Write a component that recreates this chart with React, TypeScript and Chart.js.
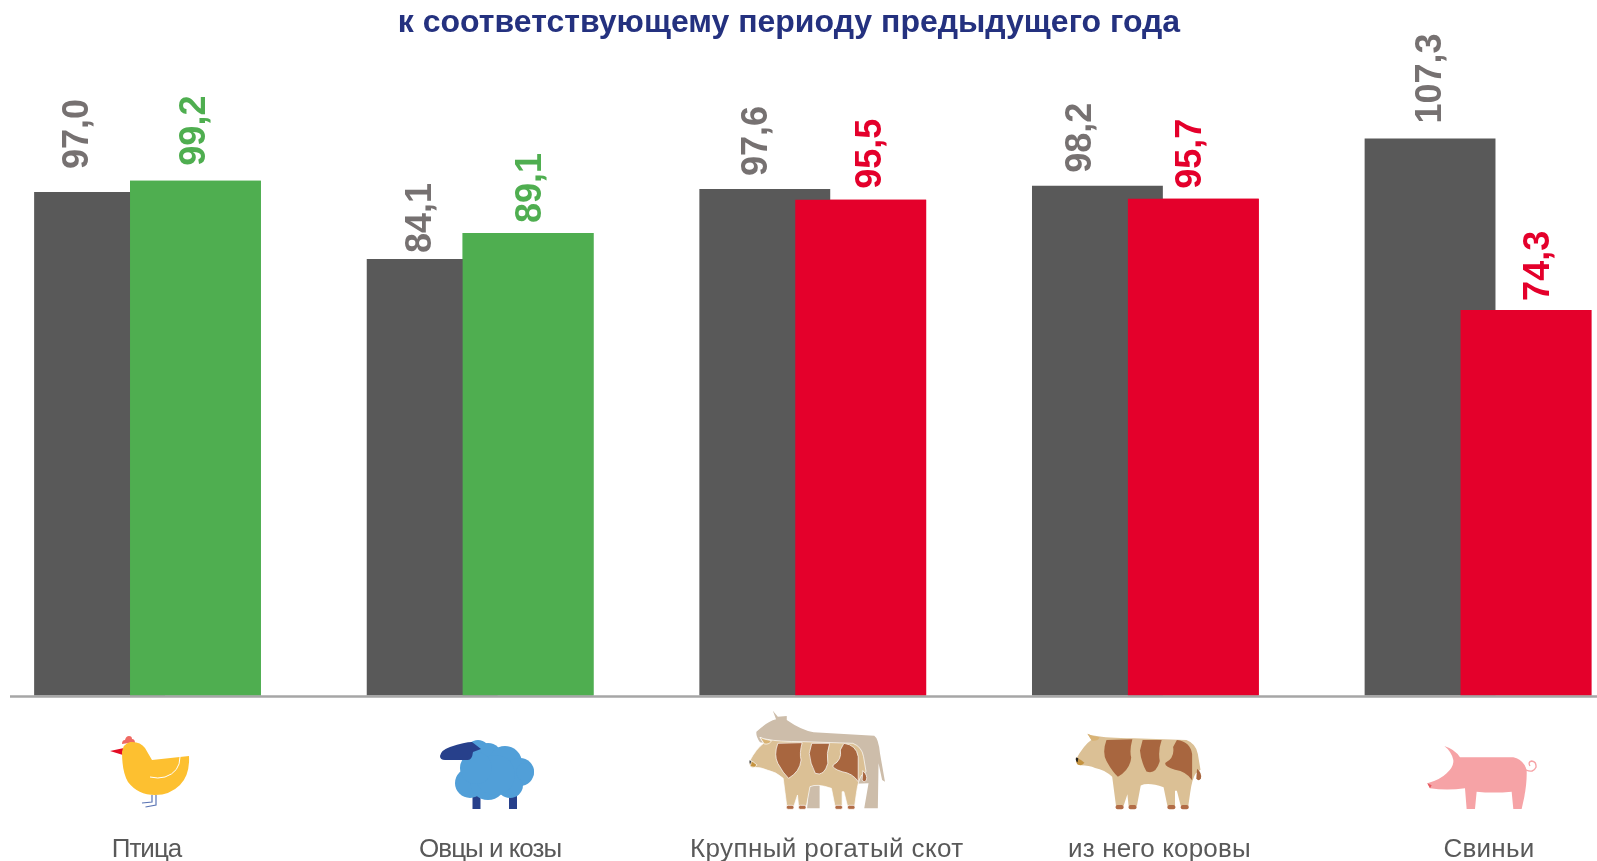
import React, { useEffect, useRef } from "react";
import { Chart, registerables } from "chart.js";

Chart.register(...registerables);

const categories = ["Птица", "Овцы и козы", "Крупный рогатый скот", "из него коровы", "Свиньи"];
const firstSeries = [97.0, 84.1, 97.6, 98.2, 107.3];
const secondSeries = [99.2, 89.1, 95.5, 95.7, 74.3];
const secondColors = ["#4fae50", "#4fae50", "#e4002b", "#e4002b", "#e4002b"];
const titleText = "к соответствующему периоду предыдущего года";

const tickNudge = [-1, 10, 14, 14, 11];
const tickSpacing = ["-1px", "-1px", "0.4px", "0.15px", "0.25px"];
const firstNudgeX = [-21, -11, -8, -16, 1];
const secondNudgeX = [0, 3, 10, -2, 13];
const firstGap = [23, 6, 13, 13, 15];
const secondGap = [15, 10, 11, 10, 9];

const fmt = (v: number) => v.toFixed(1).replace(".", ",");

const overlay = {
  id: "overlay",
  afterDatasetsDraw(chart: any) {
    const { ctx, scales } = chart;
    // the second series overlaps the first one
    chart.getDatasetMeta(1).controller.draw();

    const base = scales.y.getPixelForValue(0);
    ctx.save();
    ctx.strokeStyle = "#a6a6a6";
    ctx.lineWidth = 2.5;
    ctx.beginPath();
    ctx.moveTo(10, base + 1);
    ctx.lineTo(chart.width, base + 1);
    ctx.stroke();

    ctx.textBaseline = "middle";
    ctx.font = "bold 32px 'Liberation Sans'";
    ctx.textAlign = "center";
    ctx.fillStyle = "#24317f";
    ctx.fillText(titleText, 789, 23);

    chart.data.datasets.forEach((ds: any, di: number) => {
      const meta = chart.getDatasetMeta(di);
      meta.data.forEach((bar: any, i: number) => {
        ctx.save();
        const nudge = di === 0 ? firstNudgeX[i] : secondNudgeX[i];
        const gap = di === 0 ? firstGap[i] : secondGap[i];
        ctx.translate(bar.x + nudge, bar.y - gap);
        ctx.rotate(-Math.PI / 2);
        ctx.textAlign = "left";
        ctx.font = "bold 36px 'Liberation Sans'";
        ctx.fillStyle = di === 0 ? "#767171" : secondColors[i];
        ctx.fillText(fmt(ds.data[i]), 0, 0);
        ctx.restore();
      });
    });

    ctx.font = "26px 'Liberation Sans'";
    ctx.fillStyle = "#595959";
    ctx.textAlign = "center";
    categories.forEach((c, i) => {
      (ctx as any).letterSpacing = tickSpacing[i];
      ctx.fillText(c, scales.x.getPixelForValue(i) + tickNudge[i], 850);
    });
    (ctx as any).letterSpacing = "0px";
    ctx.restore();
  },
};

function CowBody() {
  return (
    <g>
      <path d="M250 245 Q270 205 290 190 L280 172 Q290 178 300 178 Q330 185 400 185 L540 190 Q565 200 570 230 L577 275 L565 285 Q555 300 550 340 L545 378 L525 378 L515 335 L510 335 L510 378 L490 378 L480 325 Q440 310 420 320 L410 378 L388 378 L385 345 L375 378 L355 378 L345 295 Q325 275 300 270 Q285 262 262 262 Q250 260 250 245Z" fill="#dbc095" />
      <path d="M330 190 L398 188 Q390 220 395 240 Q392 275 360 295 Q345 280 330 250 Q318 225 330 190Z" fill="#a8663f" />
      <path d="M425 190 L475 190 Q465 220 470 250 Q460 290 435 280 Q420 250 418 220Z" fill="#a8663f" />
      <path d="M515 190 Q550 195 555 230 L555 305 Q540 280 510 275 Q480 265 485 255 Q510 240 505 210Z" fill="#a8663f" />
      <path d="M568 272 Q582 285 578 300 Q572 310 566 300Z" fill="#a8663f" />
      <path d="M250 240 Q262 245 272 255 Q265 266 254 260 Q248 250 250 240Z" fill="#c5933f" />
      <path d="M250 240 Q248 250 254 254 L256 242Z" fill="#222" />
      <path d="M280 172 Q290 178 312 182 Q308 194 292 192Z" fill="#d9b374" />
      <rect x="354" y="376" width="21" height="12" rx="5" fill="#b26c46" />
      <rect x="388" y="376" width="21" height="12" rx="5" fill="#b26c46" />
      <rect x="490" y="376" width="21" height="12" rx="5" fill="#b26c46" />
      <rect x="525" y="376" width="21" height="12" rx="5" fill="#b26c46" />
    </g>
  );
}

function Icons() {
  return (
    <svg style={{ position: "absolute", left: 0, top: 0 }} width={1597} height={861} viewBox="0 0 1597 861">
      {/* chicken */}
      <path d="M110 751 L124 748 L126 754 L123 755Z" fill="#e30b24" />
      <path d="M122 744 q0-4 3-4 q1-4 4-4 q3 0 3 3 q3 0 3 4 l-6 0z" fill="#ef6a63" />
      <path d="M122 752 Q123 744 130 742 Q140 741 145 748 L152 760 L189 756 Q190 775 180 785 Q170 795 155 795 Q138 795 128 782 Q122 772 122 752Z" fill="#fdc030" />
      <path d="M180 757 Q180 772 165 777 Q158 779 150 777" fill="none" stroke="#fff" strokeWidth="1" />
      <path d="M152 795 L152 802 L142 803 M156 795 L156 805 L145.5 807" fill="none" stroke="#5a74b4" strokeWidth="1.2" />

      {/* sheep */}
      <rect x="472.5" y="790" width="8" height="19" fill="#27408b" />
      <rect x="509" y="790" width="8" height="19" fill="#27408b" />
      <g fill="#519fd8">
        <circle cx="478" cy="752" r="12" />
        <circle cx="488" cy="757" r="14" />
        <circle cx="505" cy="763" r="17" />
        <circle cx="520" cy="772" r="14" />
        <circle cx="470" cy="783" r="15" />
        <circle cx="488" cy="782" r="18" />
        <circle cx="510" cy="785" r="13" />
        <circle cx="525" cy="772" r="9" />
        <circle cx="495" cy="775" r="20" />
        <circle cx="476" cy="768" r="16" />
      </g>
      <path d="M440 756 Q441 750 450 747 Q465 742 472 742 L481 749 L473 752 Q472 760 468 760 L445 760 Q440 760 440 756Z" fill="#27408b" />

      {/* horse and cow */}
      <g transform="translate(660 680) scale(0.3571 0.3333)">
        <path d="M270 155 Q300 125 325 118 L316 92 L330 110 L355 108 L355 120 Q395 150 430 157 L600 167 Q612 175 616 220 L630 305 L622 300 L612 250 L610 385 L572 385 L584 310 L447 315 L447 385 L412 385 L418 300 L300 190 L280 187 Q268 170 270 155Z" fill="#cdbdaa" />
        <g stroke="#fff" strokeWidth="2">
          <CowBody />
        </g>
      </g>

      {/* cow */}
      <g transform="translate(660 680) scale(0.3571 0.3333) translate(1165 388) scale(1.066 1.05) translate(-250 -388)">
        <CowBody />
      </g>

      {/* pig */}
      <g transform="translate(1300 680) scale(0.3333)">
        <path d="M382 310 Q420 300 440 280 Q462 260 460 240 Q455 215 433 198 Q465 208 480 232 L640 232 Q672 240 680 270 Q682 320 665 387 L640 387 L635 335 Q580 340 530 335 L525 387 L500 387 L495 325 Q440 332 390 325Z" fill="#f6a3a6" />
        <path d="M382 310 L390 325 L395 316Z" fill="#e65a60" />
        <path d="M678 270 Q700 280 708 262 Q710 245 695 243 Q683 246 690 258" fill="none" stroke="#f6a3a6" strokeWidth="4" />
      </g>
    </svg>
  );
}

export default function App() {
  const ref = useRef<HTMLCanvasElement>(null);
  useEffect(() => {
    const chart = new Chart(ref.current!, {
      type: "bar",
      data: {
        labels: categories,
        datasets: [
          { label: "Первый период", data: firstSeries, backgroundColor: "#595959", clip: false } as any,
          { label: "Второй период", data: secondSeries, backgroundColor: secondColors, clip: false } as any,
        ],
      },
      plugins: [overlay],
      options: {
        responsive: false,
        animation: false,
        maintainAspectRatio: false,
        layout: { padding: { left: 147.5, right: 119, top: 72.7, bottom: 165.5 } },
        datasets: { bar: { categoryPercentage: 0.5766, barPercentage: 1.3646 } },
        scales: {
          x: { display: false, offset: false },
          y: { display: false, min: 0, max: 120 },
        },
        plugins: { legend: { display: false }, title: { display: false }, tooltip: { enabled: false } },
      },
    });
    return () => chart.destroy();
  }, []);
  return (
    <div style={{ position: "absolute", left: 0, top: 0, width: 1597, height: 861, overflow: "hidden", background: "#fff" }}>
      <canvas ref={ref} width={1597} height={861} style={{ display: "block" }} />
      <Icons />
    </div>
  );
}
